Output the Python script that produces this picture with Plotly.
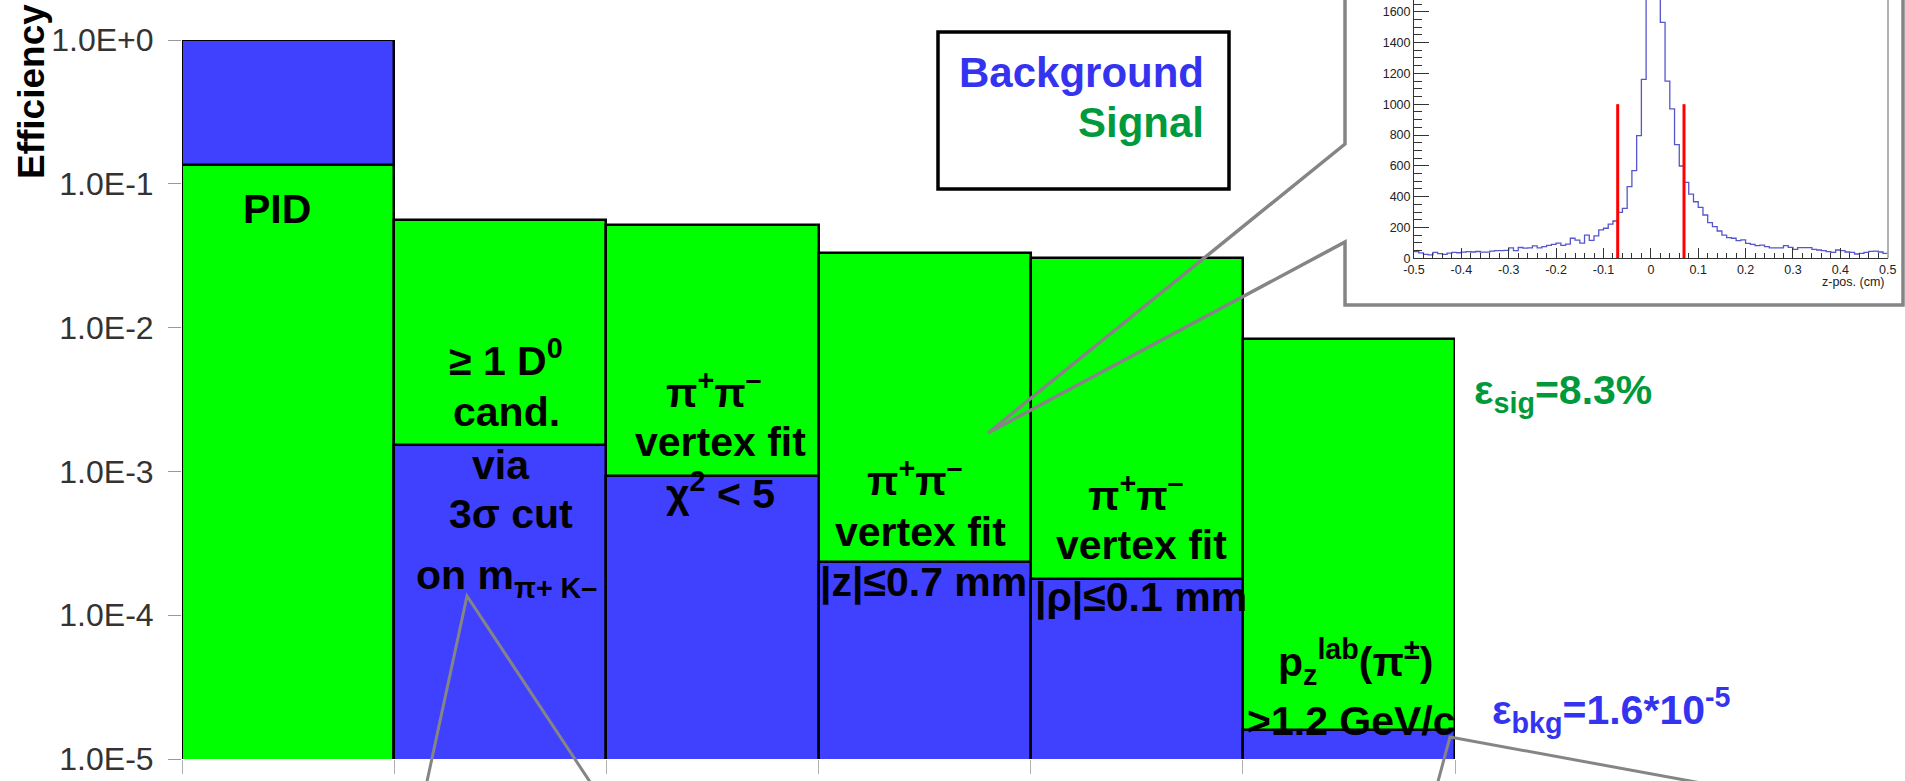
import numpy as np
import plotly.graph_objects as go

# ---- cut-flow efficiencies (log scale) ----
categories = ["PID", "D0 cand.", "vertex fit chi2", "vertex fit |z|", "vertex fit |rho|", "pz lab"]
signal_eff = [0.135, 0.0559, 0.0516, 0.033, 0.0305, 0.0083]
background_eff = [1.0, 1.52e-3, 9.3e-4, 2.34e-4, 1.79e-4, 1.6e-5]
y_tick_vals = [1.0, 1e-1, 1e-2, 1e-3, 1e-4, 1e-5]
y_tick_text = ["1.0E+0", "1.0E-1", "1.0E-2", "1.0E-3", "1.0E-4", "1.0E-5"]

# ---- inset: z-position of the pi+pi- vertex (100 bins, -0.5..0.5 cm) ----
zpos_counts = [43, 35, 25, 22, 38, 30, 26, 34, 38, 36,
               40, 43, 41, 44, 40, 40, 47, 50, 50, 52,
               68, 50, 70, 66, 68, 80, 68, 76, 84, 90,
               98, 84, 92, 130, 118, 98, 150, 116, 146, 184,
               195, 222, 242, 298, 324, 465, 569, 796, 1161, 1850,
               2000, 1900, 1531, 1150, 969, 737, 599, 493, 417, 367,
               331, 281, 231, 205, 177, 151, 134, 130, 115, 119,
               97, 91, 82, 86, 76, 67, 67, 67, 82, 71,
               58, 69, 69, 69, 58, 54, 50, 43, 39, 54,
               50, 41, 39, 28, 32, 39, 45, 47, 41, 32]
zpos_lo, zpos_hi = -0.5, 0.5
zpos_cut = 0.07
cut_line_top = 1000
inset_x_ticks = [-0.5, -0.4, -0.3, -0.2, -0.1, 0.0, 0.1, 0.2, 0.3, 0.4, 0.5]
inset_x_text = ["-0.5", "-0.4", "-0.3", "-0.2", "-0.1", "0", "0.1", "0.2", "0.3", "0.4", "0.5"]
inset_y_ticks = [0, 200, 400, 600, 800, 1000, 1200, 1400, 1600]
inset_y_text = ["0", "200", "400", "600", "800", "1000", "1200", "1400", "1600"]

# ---- styling ----
W, H = 1905, 781
MB = 22
HP = H - MB                      # paper height in px (top margin 0)
FONT = "Liberation Sans, Arial, sans-serif"
SIG_FILL = "#00ff00"
BKG_FILL = "#4040ff"
SIG_TEXT = "#009a3c"
BKG_TEXT = "#3434f0"
GREY = "#858585"


def px(x):
    return x / W


def py(y):
    return (HP - y) / HP


fig = go.Figure()

# taller bar of each pair goes behind, shorter one in front
bkg_back = [b if b > s else None for s, b in zip(signal_eff, background_eff)]
bkg_front = [b if b <= s else None for s, b in zip(signal_eff, background_eff)]
outline = dict(color="black", width=2.5)

fig.add_trace(go.Bar(x=categories, y=bkg_back, name="Background",
                     marker=dict(color=BKG_FILL, line=outline)))
fig.add_trace(go.Bar(x=categories, y=signal_eff, name="Signal",
                     marker=dict(color=SIG_FILL, line=outline)))
fig.add_trace(go.Bar(x=categories, y=bkg_front, name="Background",
                     marker=dict(color=BKG_FILL, line=outline)))

# inset histogram
edges = np.linspace(zpos_lo, zpos_hi, len(zpos_counts) + 1)
fig.add_trace(go.Scatter(x=edges, y=zpos_counts + [zpos_counts[-1]], mode="lines",
                         line=dict(shape="hv", color="#5656cc", width=1.3),
                         xaxis="x2", yaxis="y2"))
for zc in (-zpos_cut, zpos_cut):
    fig.add_trace(go.Scatter(x=[zc, zc], y=[0, cut_line_top], mode="lines",
                             line=dict(color="#ff0000", width=3),
                             xaxis="x2", yaxis="y2"))

fig.update_layout(
    width=W, height=H,
    margin=dict(l=0, r=0, t=0, b=MB, autoexpand=False),
    paper_bgcolor="white", plot_bgcolor="rgba(0,0,0,0)",
    barmode="overlay", bargap=0,
    showlegend=False,
    xaxis=dict(domain=[px(182), px(1455)], type="category", range=[-0.5, 5.5],
               showticklabels=False, ticks="outside", tickson="boundaries",
               ticklen=14, tickcolor="#b0b0b0", tickwidth=1,
               showgrid=False, zeroline=False, showline=False),
    yaxis=dict(domain=[0, py(40)], type="log", range=[-5, 0],
               tickvals=y_tick_vals, ticktext=y_tick_text,
               ticks="outside", ticklen=13, tickcolor="#999999", tickwidth=1,
               tickfont=dict(family=FONT, size=32, color="#333333"),
               ticklabelstandoff=8,
               showgrid=False, zeroline=False, showline=False),
    xaxis2=dict(domain=[px(1414), px(1887.7)], anchor="y2", range=[zpos_lo, zpos_hi],
                tickvals=inset_x_ticks, ticktext=inset_x_text,
                ticks="inside", ticklen=10, tickcolor="#333333", tickwidth=1,
                minor=dict(dtick=0.02, ticks="inside", ticklen=5, tickcolor="#333333"),
                tickfont=dict(family=FONT, size=12.5, color="#222222"),
                showline=True, linecolor="#333333", linewidth=1,
                showgrid=False, zeroline=False),
    yaxis2=dict(domain=[py(258.3), 1], anchor="x2", range=[0, 1676],
                tickvals=inset_y_ticks, ticktext=inset_y_text,
                ticks="inside", ticklen=15, tickcolor="#333333", tickwidth=1,
                minor=dict(dtick=50, ticks="inside", ticklen=8, tickcolor="#333333"),
                tickfont=dict(family=FONT, size=12.5, color="#222222"),
                showline=True, linecolor="#333333", linewidth=1,
                showgrid=False, zeroline=False),
)

shapes = []
# legend frame
shapes.append(dict(type="rect", xref="paper", yref="paper",
                   x0=px(938), x1=px(1229), y0=py(32), y1=py(189),
                   line=dict(color="black", width=3.5), fillcolor="white", layer="above"))


def poly(points):
    return "M " + " L ".join(f"{px(x):.5f},{py(y):.5f}" for x, y in points)


# callout around the inset, pointing at the vertex-fit bars
shapes.append(dict(type="path", xref="paper", yref="paper",
                   path=poly([(1345, -10), (1345, 144), (988, 433), (1345, 242),
                              (1345, 305), (1903, 305), (1903, -10)]),
                   line=dict(color=GREY, width=3.5), layer="above"))
# frame edge on the right of the inset plot
shapes.append(dict(type="line", xref="paper", yref="paper",
                   x0=px(1888), x1=px(1888), y0=py(-10), y1=py(258.3),
                   line=dict(color="#9a9a9a", width=1.5), layer="above"))
# callouts leading below the chart
shapes.append(dict(type="path", xref="paper", yref="paper",
                   path=poly([(423, 800), (467, 596), (602, 800)]),
                   line=dict(color=GREY, width=3), layer="above"))
shapes.append(dict(type="path", xref="paper", yref="paper",
                   path=poly([(1433, 800), (1450, 737), (1794, 800)]),
                   line=dict(color=GREY, width=3), layer="above"))
fig.update_layout(shapes=shapes)

annotations = []


def label(text, x, y, size=41, color="black", xanchor="center", angle=0):
    annotations.append(dict(text=text, x=px(x), y=py(y), xref="paper", yref="paper",
                            xanchor=xanchor, yanchor="middle", showarrow=False,
                            textangle=angle,
                            font=dict(family=FONT, size=size, color=color)))


label("<b>Efficiency</b>", 31, 92, size=37, angle=-90)

# cut descriptions on the bars
label("<b>PID</b>", 277, 209)
label("<b>≥ 1 D<sup>0</sup></b>", 506, 358)
label("<b>cand.</b>", 507, 412)
label("<b>via</b>", 501, 465)
label("<b>3σ cut</b>", 511, 514)
label("<b>on m<sub>π+ K–</sub></b>", 507, 578)
label("<b>π<sup>+</sup>π<sup>–</sup></b>", 714, 390)
label("<b>vertex fit</b>", 720, 442)
label("<b>χ<sup>2</sup> &lt; 5</b>", 720, 491)
label("<b>π<sup>+</sup>π<sup>–</sup></b>", 915, 478)
label("<b>vertex fit</b>", 920, 532)
label("<b>|z|≤0.7 mm</b>", 923, 582)
label("<b>π<sup>+</sup>π<sup>–</sup></b>", 1136, 493)
label("<b>vertex fit</b>", 1141, 545)
label("<b>|ρ|≤0.1 mm</b>", 1141, 597)
label("<b>p<sub>z</sub><sup>lab</sup>(π<sup>±</sup>)</b>", 1355, 662)
label("<b>&gt;1.2 GeV/c</b>", 1351, 721)

# overall efficiencies
label("<b>ε<sub>sig</sub>=8.3%</b>", 1472, 393, color=SIG_TEXT, xanchor="left")
label("<b>ε<sub>bkg</sub>=1.6*10<sup>-5</sup></b>", 1490, 710, color=BKG_TEXT, xanchor="left")

# legend entries
label("<b>Background</b>", 1206, 72, size=42, color=BKG_TEXT, xanchor="right")
label("<b>Signal</b>", 1206, 123, size=42, color=SIG_TEXT, xanchor="right")

# inset axis title
label("z-pos. (cm)", 1887, 282, size=12.5, color="#222222", xanchor="right")

fig.update_layout(annotations=annotations)

fig.write_html("out.html")
